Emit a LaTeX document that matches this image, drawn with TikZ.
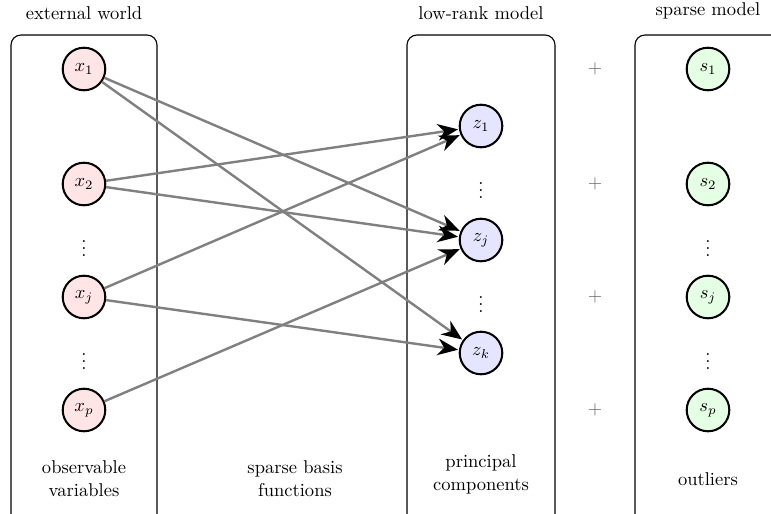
\documentclass[tikz,border=0pt]{standalone}
\usetikzlibrary{arrows.meta}
\tikzset{
  panel/.style={draw=black, line width=0.6pt, rounded corners=5.4pt},
  var/.style={circle, draw=black, line width=1.1pt, minimum size=23pt, inner sep=0pt},
  obs/.style={var, fill=red!10},
  comp/.style={var, fill=blue!10},
  outl/.style={var, fill=green!10},
  link/.style={draw=black!50, line width=1.3pt, -{Stealth[black, length=11pt, width=9pt, inset=3.5pt]}, shorten >=0.5pt},
  caption/.style={align=center, font=\rmfamily\fontsize{10}{12.5}\selectfont},
  title/.style={font=\rmfamily\fontsize{10}{12}\selectfont},
  dots/.style={inner sep=0pt},
  plus/.style={text=black!60}
}
\begin{document}
\begin{tikzpicture}[x=0.54pt, y=-0.54pt]
  \useasboundingbox (0,0) rectangle (771,514);

  % panels
  \draw[panel] (11,35) rectangle (157,540);
  \draw[panel] (407,35) rectangle (555,540);
  \draw[panel] (635,35) rectangle (800,540);

  % titles
  \node[title] (t1) at (84,13) {external world};
  \node[title] (t2) at (481,13) {low-rank model};
  \node[title] (t3) at (708,11) {sparse model};

  % observable variables
  \node[obs] (x1) at (84,69) {$x_1$};
  \node[obs] (x2) at (84,184) {$x_2$};
  \node[dots] (xd1) at (84,243) {$\vdots$};
  \node[obs] (xj) at (84,297) {$x_j$};
  \node[dots] (xd2) at (84,356) {$\vdots$};
  \node[obs] (xp) at (84,410) {$x_p$};

  % principal components
  \node[comp] (z1) at (481,126) {$z_1$};
  \node[dots] (zd1) at (481,185) {$\vdots$};
  \node[comp] (zj) at (481,240) {$z_j$};
  \node[dots] (zd2) at (481,299) {$\vdots$};
  \node[comp] (zk) at (481,353) {$z_k$};

  % outliers
  \node[outl] (s1) at (708,69) {$s_1$};
  \node[outl] (s2) at (708,184) {$s_2$};
  \node[dots] (sd1) at (708,243) {$\vdots$};
  \node[outl] (sj) at (708,297) {$s_j$};
  \node[dots] (sd2) at (708,356) {$\vdots$};
  \node[outl] (sp) at (708,410) {$s_p$};

  % plus signs
  \node[plus] (p1) at (595,69) {$+$};
  \node[plus] (p2) at (595,184) {$+$};
  \node[plus] (p3) at (595,297) {$+$};
  \node[plus] (p4) at (595,410) {$+$};

  % sparse basis functions
  \draw[link] (x1) -- (zj);
  \draw[link] (x1) -- (zk);
  \draw[link] (x2) -- (z1);
  \draw[link] (x2) -- (zj);
  \draw[link] (xj) -- (z1);
  \draw[link] (xj) -- (zk);
  \draw[link] (xp) -- (zj);

  % captions
  \node[caption] (c1) at (84,479) {observable\\variables};
  \node[caption] (c2) at (295,479) {sparse basis\\functions};
  \node[caption] (c3) at (481,474) {principal\\components};
  \node[caption] (c4) at (708,479) {outliers};
\end{tikzpicture}
\end{document}
